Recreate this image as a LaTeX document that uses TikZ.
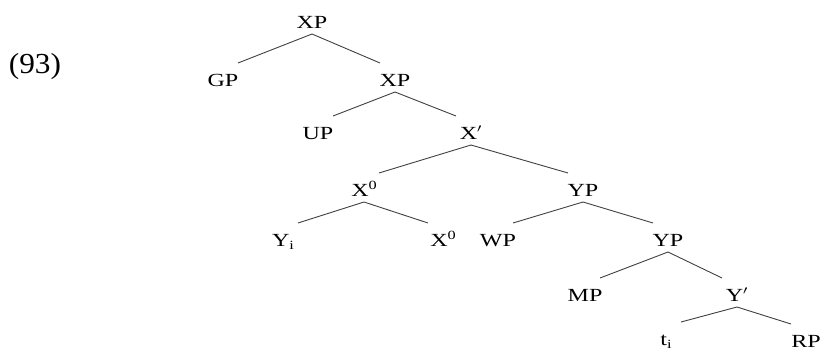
\documentclass[tikz,border=0pt]{standalone}
\usepackage{fontspec}
\usepackage{graphicx}
\setmainfont{Liberation Serif}
\usetikzlibrary{calc}
\newcommand\sx[1]{\scalebox{1.3}[1]{#1}}
\newcommand\mysub[1]{\raisebox{-3.5pt}{\fontsize{12.5}{13}\selectfont #1}}
\newcommand\mysup[1]{\raisebox{6.5pt}{\fontsize{12.5}{13}\selectfont #1}}
\newcommand\brl[2]{\draw[edge] ($(#1)+(0,12)$) -- ($(#2)+(15,-17)$);}
\newcommand\brr[2]{\draw[edge] ($(#1)+(0,12)$) -- ($(#2)+(-15,-17)$);}
\begin{document}
\begin{tikzpicture}[x=1pt,y=-1pt,
  lab/.style={inner sep=0pt, text height=12pt, text depth=0pt, font=\fontsize{18.5}{20}\selectfont},
  edge/.style={line width=0.9pt, draw=black!75}]
\useasboundingbox (0,0) rectangle (828,351);
\node[inner sep=0pt, font=\fontsize{29}{32}\selectfont] (ex) at (35,67) {\scalebox{1.08}[1]{(93)}};
\node[lab] (xp1) at (312,22) {\sx{XP}};
\node[lab] (gp) at (223,80) {\sx{GP}};
\node[lab] (xp2) at (395,80) {\sx{XP}};
\node[lab] (up) at (318,133) {\sx{UP}};
\node[lab] (xbar) at (471,133) {\sx{X$'$}};
\node[lab] (x0a) at (364,190) {\sx{X\mysup{0}}};
\node[lab] (yp1) at (583,190) {\sx{YP}};
\node[lab] (yi) at (283,240) {\sx{Y\mysub{i}}};
\node[lab] (x0b) at (443,240) {\sx{X\mysup{0}}};
\node[lab] (wp) at (498,240) {\sx{WP}};
\node[lab] (yp2) at (668,240) {\sx{YP}};
\node[lab] (mp) at (585,295) {\sx{MP}};
\node[lab] (ybar) at (737,295) {\sx{Y$'$}};
\node[lab] (ti) at (666,339) {\sx{t\mysub{i}}};
\node[lab] (rp) at (806,341) {\sx{RP}};
\brl{xp1}{gp}
\brr{xp1}{xp2}
\brl{xp2}{up}
\brr{xp2}{xbar}
\brl{xbar}{x0a}
\brr{xbar}{yp1}
\brl{x0a}{yi}
\brr{x0a}{x0b}
\brl{yp1}{wp}
\brr{yp1}{yp2}
\brl{yp2}{mp}
\brr{yp2}{ybar}
\brl{ybar}{ti}
\brr{ybar}{rp}
\end{tikzpicture}
\end{document}
